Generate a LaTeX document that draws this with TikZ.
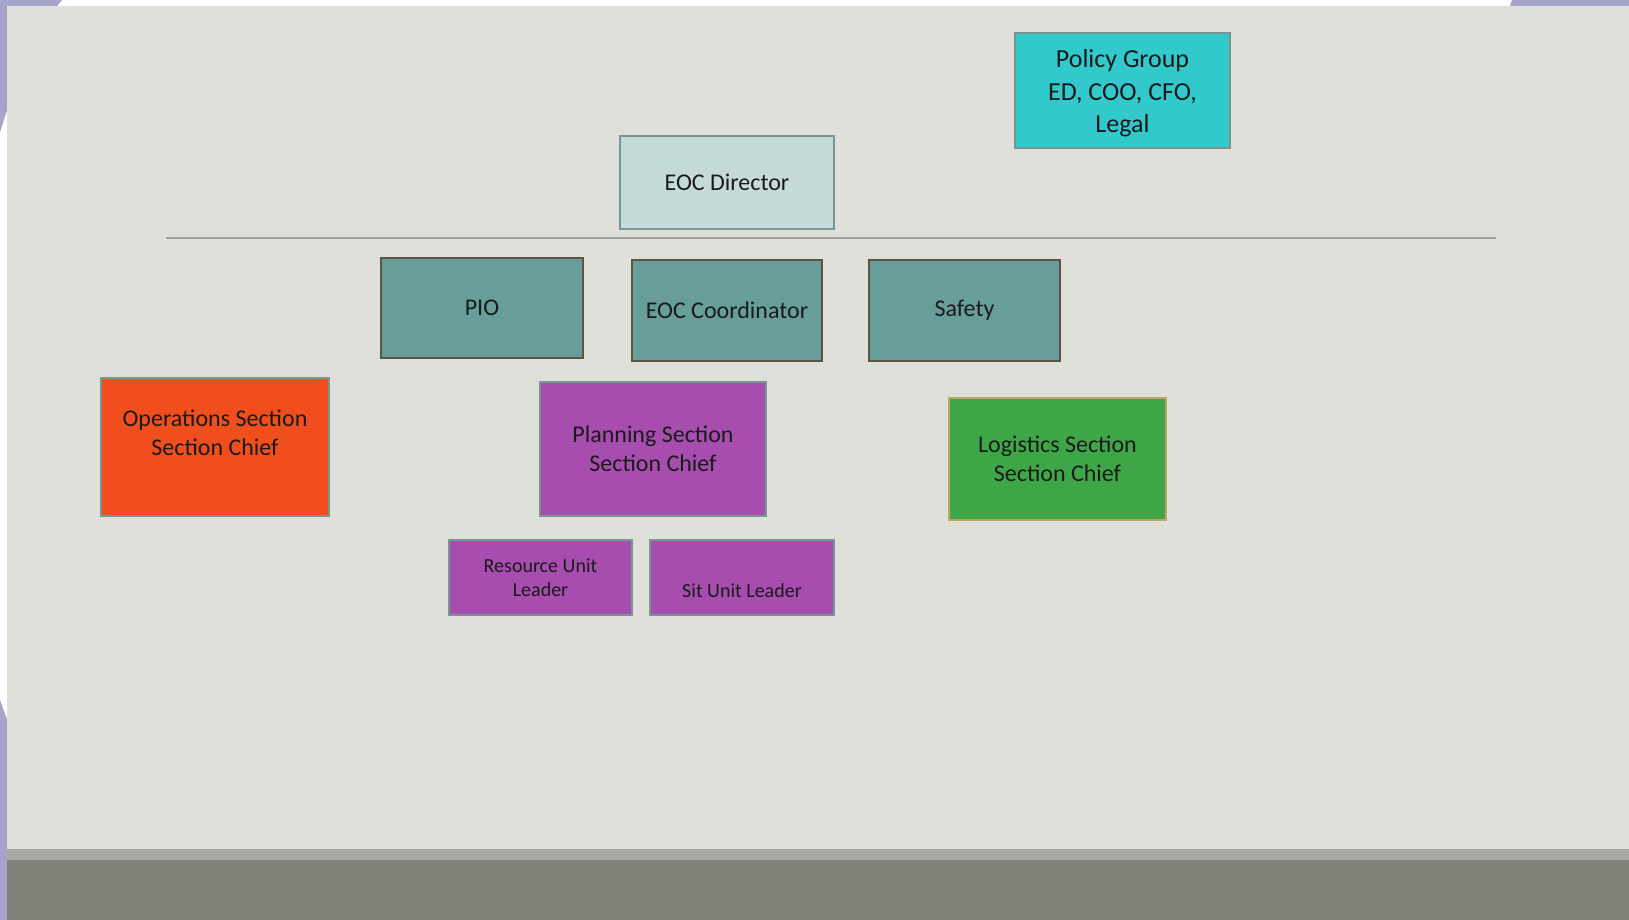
\documentclass[tikz,border=0pt]{standalone}
\usepackage{fontspec}
\setmainfont{Carlito}
\definecolor{panel}{HTML}{E0E0DA}
\definecolor{swoosh}{HTML}{A6A4CC}
\definecolor{bandlight}{HTML}{A9AAA3}
\definecolor{banddark}{HTML}{808178}
\definecolor{policyfill}{HTML}{31C9CC}
\definecolor{dirfill}{HTML}{C5DBDA}
\definecolor{tealfill}{HTML}{679E9A}
\definecolor{opsfill}{HTML}{F04E1C}
\definecolor{planfill}{HTML}{A64DAF}
\definecolor{logfill}{HTML}{3FA648}
\definecolor{greyedge}{HTML}{7A9694}
\definecolor{brownedge}{HTML}{5E5444}
\definecolor{tanedge}{HTML}{BFA566}
\definecolor{txt}{HTML}{1A1A1A}
\definecolor{rule}{HTML}{A2A29C}
\begin{document}
\begin{tikzpicture}[x=1pt,y=-1pt,
  boxtext/.style={align=center, text=txt, font=\fontsize{24}{29}\selectfont, inner sep=0pt},
  box/.style={draw=greyedge, line width=2pt, rectangle, inner sep=0pt, boxtext},
  smallbox/.style={box, font=\fontsize{20}{24}\selectfont}
]
\useasboundingbox (0,0) rectangle (1629,920);
\fill[white] (0,0) rectangle (1629,920);
% decorative swooshes
\fill[swoosh] (0,0) -- (62,0) -- (30,40) -- (0,132) -- cycle;
\fill[swoosh] (1512,0) -- (1629,0) -- (1629,12) -- (1508,12) -- cycle;
\fill[swoosh] (0,700) -- (8,722) -- (8,920) -- (0,920) -- cycle;
% panel and bottom band
\fill[panel] (7,6) rectangle (1629,852);
\fill[bandlight] (7,849) rectangle (1629,860);
\fill[banddark] (7,860) rectangle (1629,920);
% rule line
\coordinate (lineL) at (166,238);
\coordinate (lineR) at (1496,238);
\draw[rule, line width=2pt] (lineL) -- (lineR);
% nodes
\node[box, fill=policyfill, minimum width=215pt, minimum height=115pt,
  label={[boxtext, font=\fontsize{26}{32.7}\selectfont, yshift=-3pt]center:{Policy Group\\ED, COO, CFO,\\Legal}}]
  (policy) at (1122.5,90.5) {};
\node[box, fill=dirfill, minimum width=214pt, minimum height=93pt] (director) at (727,182.5) {EOC Director};
\node[box, draw=brownedge, fill=tealfill, minimum width=202pt, minimum height=100pt] (pio) at (482,308) {PIO};
\node[box, draw=brownedge, fill=tealfill, minimum width=190pt, minimum height=101pt] (coord) at (727,310.5) {EOC Coordinator};
\node[box, draw=brownedge, fill=tealfill, minimum width=191pt, minimum height=101pt] (safety) at (964.5,310.5) {Safety};
\node[box, fill=opsfill, minimum width=228pt, minimum height=138pt,
  label={[boxtext, yshift=14pt]center:{Operations Section\\Section Chief}}]
  (ops) at (215,447) {};
\node[box, fill=planfill, minimum width=226pt, minimum height=134pt] (plan) at (653,448.5) {Planning Section\\Section Chief};
\node[box, draw=tanedge, fill=logfill, minimum width=217pt, minimum height=122pt] (log) at (1057.5,458.5) {Logistics Section\\Section Chief};
\node[smallbox, fill=planfill, minimum width=183pt, minimum height=75pt] (resource) at (540.5,577.5) {Resource Unit\\Leader};
\node[smallbox, fill=planfill, minimum width=184pt, minimum height=75pt] (sit) at (742,577.5) {\strut\\Sit Unit Leader};
\end{tikzpicture}
\end{document}
